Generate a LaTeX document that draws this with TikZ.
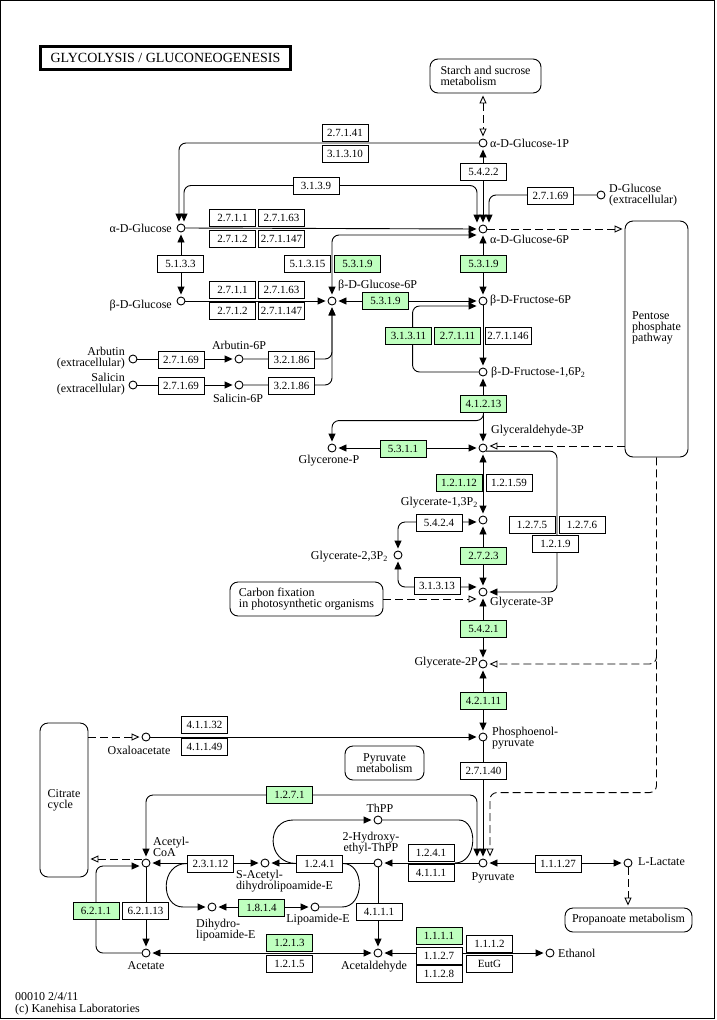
\documentclass[tikz,border=0pt]{standalone}
\usepackage{fontspec}
\setmainfont{Liberation Serif}
\usetikzlibrary{arrows.meta,calc,backgrounds}
\definecolor{kgreen}{RGB}{191,255,191}
\newcommand\cpdfont{\fontsize{12}{11}\selectfont}
\newcommand\enzfont{\fontsize{11}{10}\selectfont}

\begin{document}
\begin{tikzpicture}[x=1pt,y=-1pt,
		cpd/.style={circle,draw,fill=white,line width=0.9pt,inner sep=0pt,minimum size=8pt},
		enz/.style={rectangle,draw,fill=white,line width=0.9pt,inner sep=0pt,minimum width=46pt,minimum height=17pt,font=\enzfont},
		genz/.style={enz,fill=kgreen},
		mapbox/.style={rectangle,draw,rounded corners=8pt,line width=0.9pt,inner sep=0pt,align=left,font=\cpdfont},
		lbl/.style={inner sep=0pt,font=\cpdfont},
		rxn/.style={line width=0.9pt,rounded corners=7pt},
		dsh/.style={line width=0.9pt,rounded corners=7pt,dash pattern=on 8pt off 4pt},
		fw/.style={-{Triangle[length=8pt,width=7pt]},shorten >=2pt},
		bi/.style={{Triangle[length=8pt,width=7pt]}-{Triangle[length=8pt,width=7pt]},shorten >=2pt,shorten <=2pt},
		ofw/.style={-{Triangle[open,length=8pt,width=7pt]},shorten >=2pt},
		obi/.style={{Triangle[open,length=8pt,width=7pt]}-{Triangle[open,length=8pt,width=7pt]},shorten >=2pt,shorten <=2pt}]
		\useasboundingbox (0,0) rectangle (716,1020);
		\draw[line width=1pt] (0.5,0.5) rectangle (714.5,1018.5);
		\node[draw,line width=3pt,minimum width=250pt,minimum height=23pt,inner sep=0pt,font=\fontsize{14}{14}\selectfont] (title) at (165.5,58) {GLYCOLYSIS / GLUCONEOGENESIS};

		\node[mapbox,minimum width=111pt,minimum height=34pt]				(starch)	at (485.5,76)	{Starch and sucrose\\metabolism};
		\node[mapbox,minimum width=63pt,minimum height=236pt,text depth=24pt]	(ppp)		at (656.5,339)	{Pentose\\phosphate\\pathway};
		\node[mapbox,minimum width=153pt,minimum height=34pt]				(cfix)		at (306.5,599)	{Carbon fixation\\in photosynthetic organisms};
		\node[mapbox,minimum width=48pt,minimum height=154pt]				(tca)		at (64,800)		{Citrate\\cycle};
		\node[mapbox,align=center,minimum width=79pt,minimum height=34pt]		(pyrmet)	at (384.5,763)	{Pyruvate\\metabolism};
		\node[mapbox,align=center,minimum width=127pt,minimum height=24pt]	(propmet)	at (628.5,920)	{Propanoate metabolism};

		\node[cpd]	(g1p)		at (483,143)	{};
		\node[cpd]	(aglc)		at (181,228)	{};
		\node[cpd]	(g6p)		at (483,229)	{};
		\node[cpd]	(dglc)		at (601,195)	{};
		\node[cpd]	(bglc)		at (181,301)	{};
		\node[cpd]	(bg6p)		at (332,301)	{};
		\node[cpd]	(f6p)		at (483,301)	{};
		\node[cpd]	(fbp)		at (483,372)	{};
		\node[cpd]	(gap)		at (483,448)	{};
		\node[cpd]	(dhap)		at (332,448)	{};
		\node[cpd]	(bpg)		at (483,520)	{};
		\node[cpd]	(bpg23)		at (398,555)	{};
		\node[cpd]	(pg3)		at (483,592)	{};
		\node[cpd]	(pg2)		at (483,664)	{};
		\node[cpd]	(pep)		at (483,737)	{};
		\node[cpd]	(pyr)		at (483,863)	{};
		\node[cpd]	(oaa)		at (146,737)	{};
		\node[cpd]	(accoa)		at (146,863)	{};
		\node[cpd]	(ace)		at (146,953)	{};
		\node[cpd]	(sace)		at (265,863)	{};
		\node[cpd]	(dhle)		at (212,907)	{};
		\node[cpd]	(lipe)		at (315,907)	{};
		\node[cpd]	(thpp)		at (378,820)	{};
		\node[cpd]	(hethpp)	at (378,863)	{};
		\node[cpd]	(acald)		at (378,953)	{};
		\node[cpd]	(etoh)		at (550,953)	{};
		\node[cpd]	(lac)		at (628,863)	{};
		\node[cpd]	(arb)		at (133,359)	{};
		\node[cpd]	(arb6p)		at (239,359)	{};
		\node[cpd]	(sal)		at (133,385)	{};
		\node[cpd]	(sal6p)		at (239,385)	{};
		\coordinate	(thppjoin)	at (455,863);
		\coordinate	(pppjoin)	at ($(ppp.south |- pg2)+(0,-10)$);

		\node[lbl,anchor=west]				(g1p-l)		at (490,143)	{α-D-Glucose-1P};
		\node[lbl,anchor=east]				(aglc-l)	at (172,228)	{α-D-Glucose};
		\node[lbl,anchor=west]				(g6p-l)		at (490,239)	{α-D-Glucose-6P};
		\node[lbl,anchor=west,align=left]	(dglc-l)	at (609,195)	{D-Glucose\\(extracellular)};
		\node[lbl,anchor=east]				(bglc-l)	at (172,306)	{β-D-Glucose};
		\node[lbl,anchor=west]				(bg6p-l)	at (338,286)	{β-D-Glucose-6P};
		\node[lbl,anchor=west]				(f6p-l)		at (490,301)	{β-D-Fructose-6P};
		\node[lbl,anchor=west]				(fbp-l)		at (491,373)	{β-D-Fructose-1,6P\textsubscript{2}};
		\node[lbl,anchor=west]				(gap-l)		at (491,431)	{Glyceraldehyde-3P};
		\node[lbl]							(dhap-l)	at (329,461)	{Glycerone-P};
		\node[lbl,anchor=east]				(bpg-l)		at (478,503)	{Glycerate-1,3P\textsubscript{2}};
		\node[lbl,anchor=east]				(bpg23-l)	at (388,557)	{Glycerate-2,3P\textsubscript{2}};
		\node[lbl,anchor=west]				(pg3-l)		at (490,603)	{Glycerate-3P};
		\node[lbl,anchor=east]				(pg2-l)		at (478,663)	{Glycerate-2P};
		\node[lbl,anchor=west,align=left]	(pep-l)		at (492,738)	{Phosphoenol-\\pyruvate};
		\node[lbl]							(pyr-l)		at (493,878)	{Pyruvate};
		\node[lbl]							(oaa-l)		at (139,750)	{Oxaloacetate};
		\node[lbl,anchor=west,align=left]	(accoa-l)	at (153,847)	{Acetyl-\\CoA};
		\node[lbl]							(ace-l)		at (146,966)	{Acetate};
		\node[lbl,anchor=west,align=left]	(sace-l)	at (236,881)	{S-Acetyl-\\dihydrolipoamide-E};
		\node[lbl,anchor=west,align=left]	(dhle-l)	at (196,930)	{Dihydro-\\lipoamide-E};
		\node[lbl]							(lipe-l)	at (318,920)	{Lipoamide-E};
		\node[lbl]							(thpp-l)	at (380,808)	{ThPP};
		\node[lbl,align=center]				(hethpp-l)	at (371,843)	{2-Hydroxy-\\ethyl-ThPP};
		\node[lbl]							(acald-l)	at (374,967)	{Acetaldehyde};
		\node[lbl,anchor=west]				(etoh-l)	at (558,953)	{Ethanol};
		\node[lbl,anchor=west]				(lac-l)		at (638,862)	{L-Lactate};
		\node[lbl,anchor=east,align=right]	(arb-l)		at (125,358)	{Arbutin\\(extracellular)};
		\node[lbl]							(arb6p-l)	at (239,345)	{Arbutin-6P};
		\node[lbl,anchor=east,align=right]	(sal-l)		at (125,384)	{Salicin\\(extracellular)};
		\node[lbl]							(sal6p-l)	at (238,398)	{Salicin-6P};
		\node[lbl,anchor=west]				(ver)		at (15,997)		{00010 2/4/11};
		\node[lbl,anchor=west]				(copy)		at (15,1010)	{(c) Kanehisa Laboratories};

		\node[enz]	(e27141)	at (345,132.5)		{2.7.1.41};
		\node[enz]	(e31310)	at (345,153.5)		{3.1.3.10};
		\node[enz]	(e3139)		at (316,185.5)		{3.1.3.9};
		\node[enz]	(e5422)		at (483.5,172)		{5.4.2.2};
		\node[enz]	(e27169a)	at (550.5,195.5)	{2.7.1.69};
		\node[enz]	(e2711a)	at (232.5,218)		{2.7.1.1};
		\node[enz]	(e27163a)	at (281.5,218)		{2.7.1.63};
		\node[enz]	(e2712a)	at (232.5,239)		{2.7.1.2};
		\node[enz]	(e271147a)	at (281.5,239)		{2.7.1.147};
		\node[enz]	(e5133)		at (180.5,263.5)	{5.1.3.3};
		\node[enz]	(e51315)	at (307.5,263.5)	{5.1.3.15};
		\node[genz]	(e5319a)	at (357.5,263.5)	{5.3.1.9};
		\node[genz]	(e5319b)	at (483.5,263.5)	{5.3.1.9};
		\node[enz]	(e2711b)	at (232.5,290)		{2.7.1.1};
		\node[enz]	(e27163b)	at (281.5,290)		{2.7.1.63};
		\node[enz]	(e2712b)	at (232.5,311)		{2.7.1.2};
		\node[enz]	(e271147b)	at (281.5,311)		{2.7.1.147};
		\node[genz]	(e5319c)	at (385.5,301)		{5.3.1.9};
		\node[genz]	(e31311)	at (408.5,336)		{3.1.3.11};
		\node[genz]	(e27111)	at (457.5,336)		{2.7.1.11};
		\node[enz]	(e271146)	at (508,336)		{2.7.1.146};
		\node[enz]	(e27169b)	at (181,360)		{2.7.1.69};
		\node[enz]	(e32186a)	at (291.5,359.5)	{3.2.1.86};
		\node[enz]	(e27169c)	at (181,386)		{2.7.1.69};
		\node[enz]	(e32186b)	at (291.5,386)		{3.2.1.86};
		\node[genz]	(e41213)	at (483.5,403.5)	{4.1.2.13};
		\node[genz]	(e5311)		at (403,449)		{5.3.1.1};
		\node[genz]	(e12112)	at (459,482.5)		{1.2.1.12};
		\node[enz]	(e12159)	at (509,482.5)		{1.2.1.59};
		\node[enz]	(e5424)		at (439,523)		{5.4.2.4};
		\node[genz]	(e2723)		at (483.5,556)		{2.7.2.3};
		\node[enz]	(e31313)	at (437,586)		{3.1.3.13};
		\node[enz]	(e1275)		at (532,524.5)		{1.2.7.5};
		\node[enz]	(e1276)		at (582,524.5)		{1.2.7.6};
		\node[enz]	(e1219)		at (555.5,544)		{1.2.1.9};
		\node[genz]	(e5421)		at (483.5,629)		{5.4.2.1};
		\node[genz]	(e42111)	at (483.5,700.5)	{4.2.1.11};
		\node[enz]	(e41132)	at (204.5,725)		{4.1.1.32};
		\node[enz]	(e41149)	at (204.5,747)		{4.1.1.49};
		\node[enz]	(e27140)	at (483.5,770.5)	{2.7.1.40};
		\node[genz]	(e1271)		at (289.5,795)		{1.2.7.1};
		\node[enz]	(e1241a)	at (319.5,863.5)	{1.2.4.1};
		\node[enz]	(e1241b)	at (431,852.5)		{1.2.4.1};
		\node[enz]	(e4111a)	at (431,873)		{4.1.1.1};
		\node[enz]	(e23112)	at (210.5,863.5)	{2.3.1.12};
		\node[genz]	(e1814)		at (261.5,907.5)	{1.8.1.4};
		\node[genz]	(e6211)		at (96,910.5)		{6.2.1.1};
		\node[enz]	(e62113)	at (145.5,910.5)	{6.2.1.13};
		\node[enz]	(e4111b)	at (379,911.5)		{4.1.1.1};
		\node[genz]	(e1213)		at (289.5,943)		{1.2.1.3};
		\node[enz]	(e1215)		at (289.5,963.5)	{1.2.1.5};
		\node[genz]	(e1111)		at (439,936)		{1.1.1.1};
		\node[enz]	(e1127)		at (439,955.5)		{1.1.2.7};
		\node[enz]	(e1128)		at (439,973.5)		{1.1.2.8};
		\node[enz]	(e1112)		at (489.5,943.5)	{1.1.1.2};
		\node[enz]	(eeutg)		at (489.5,963.5)	{EutG};
		\node[enz]	(e11127)	at (558,863.5)		{1.1.1.27};

		\begin{scope}[on background layer]
		\draw[dsh,obi]	(starch.south -| g1p) -- (g1p.north);
		\draw[rxn,fw]	(g1p.west) -| ([xshift=-2pt]aglc.north);
		\draw[rxn,bi]	([xshift=3pt]aglc.north) |- (e3139.center) -| ([xshift=-6pt]g6p.north);
		\draw[rxn,bi]	(g1p.south) -- (g6p.north);
		\draw[rxn,fw]	(dglc.west) -| ([xshift=6pt]g6p.north);
		\draw[dsh,ofw]	(g6p.east) -- (ppp.west |- g6p);
		\draw[rxn,fw]	(aglc.east) -- (g6p.west);
		\draw[rxn,bi]	(bg6p.north) |- ([yshift=-6pt]g6p.west);
		\draw[rxn,bi]	(aglc.south) -- (bglc.north);
		\draw[rxn,fw]	(bglc.east) -- (bg6p.west);
		\draw[rxn,bi]	(bg6p.east) -- (f6p.west);
		\draw[rxn,bi]	(g6p.south) -- (f6p.north);
		\draw[rxn,fw]	(f6p.south) -- (fbp.north);
		\draw[rxn,fw]	(fbp.west) -- ++(-66,0) |- ([yshift=-5pt]f6p.west);
		\draw[rxn,bi]	(fbp.south) -- (gap.north);
		\draw[rxn,fw]	(e41213.south) |- ($(dhap.north)+(0,-23)$) -- (dhap.north);
		\draw[rxn,bi]	(dhap.east) -- (gap.west);
		\draw[dsh,ofw]	($(ppp.west |- gap)+(0,-2)$) -- ([yshift=2pt]gap.east);
		\draw[rxn,bi]	(gap.south) -- (bpg.north);
		\draw[rxn,fw]	(gap.south east) -| ($(pg3)+(74,0)$) -- (pg3.east);
		\draw[rxn,bi]	([yshift=-2pt]bpg.west) -| (bpg23.north);
		\draw[rxn,bi]	(bpg23.south) |- ([yshift=5pt]pg3.west);
		\draw[dsh,ofw]	(cfix.east) -- (cfix.east -| pg3.west);
		\draw[rxn,bi]	(bpg.south) -- (pg3.north);
		\draw[rxn,bi]	(pg3.south) -- (pg2.north);
		\draw[rxn,bi]	(pg2.south) -- (pep.north);
		\draw[dsh,ofw]	(ppp.south) |- ($(pyr.north)+(7,-66)$) -- ([xshift=7pt]pyr.north);
		\draw[dsh,ofw]	(pppjoin) |- (pg2.east);
		\draw[rxn,fw]	(pep.south) -- (pyr.north);
		\draw[rxn,fw]	(oaa.east) -- (pep.west);
		\draw[dsh,ofw]	(tca.east |- oaa) -- (oaa.west);
		\draw[rxn,bi]	([xshift=-6pt]pyr.north) |- (e1271.center) -| (accoa.north);
		\draw[rxn,bi]	(pyr.east) -- (lac.west);
		\draw[dsh,ofw]	(lac.south) -- (lac.south |- propmet.north);
		\draw[rxn,fw]	(pyr.west) -- (hethpp.east);
		\draw[rxn,fw]	(hethpp.west) -- (sace.east);
		\draw[rxn,fw]	(e1241a.west) .. controls (266,863) and (266,820) .. (300,820) -- (thpp.west);
		\draw[rxn]		(thpp.east) -- (452,820) .. controls (478,820) and (478,863) .. (thppjoin);
		\draw[rxn]		(e1241a.east) .. controls (365,863) and (365,907) .. (335,907) -- (lipe.east);
		\draw[rxn,bi]	(dhle.east) -- (lipe.west);
		\draw[rxn,fw]	(e23112.west) .. controls (160,863) and (160,907) .. (190,907) -- (dhle.west);
		\draw[rxn,bi]	(sace.west) -- (accoa.east);
		\draw[dsh,ofw]	($(accoa.west)+(0,-4)$) -- ($(accoa.west -| tca.east)+(0,-4)$);
		\draw[rxn,fw]	(ace.west) -| (e6211.center) |- ($(accoa.west)+(0,3)$);
		\draw[rxn,fw]	(accoa.south) -- (ace.north);
		\draw[rxn,bi]	(acald.west) -- (ace.east);
		\draw[rxn,fw]	(hethpp.south) -- (acald.north);
		\draw[rxn,bi]	(acald.east) -- (etoh.west);
		\draw[rxn,fw]	(arb.east) -- (arb6p.west);
		\draw[rxn,fw]	(arb6p.east) -| (bg6p.south);
		\draw[rxn,fw]	(sal.east) -- (sal6p.west);
		\draw[rxn,fw]	(sal6p.east) -| (bg6p.south);
		\end{scope}
	\end{tikzpicture}
\end{document}
